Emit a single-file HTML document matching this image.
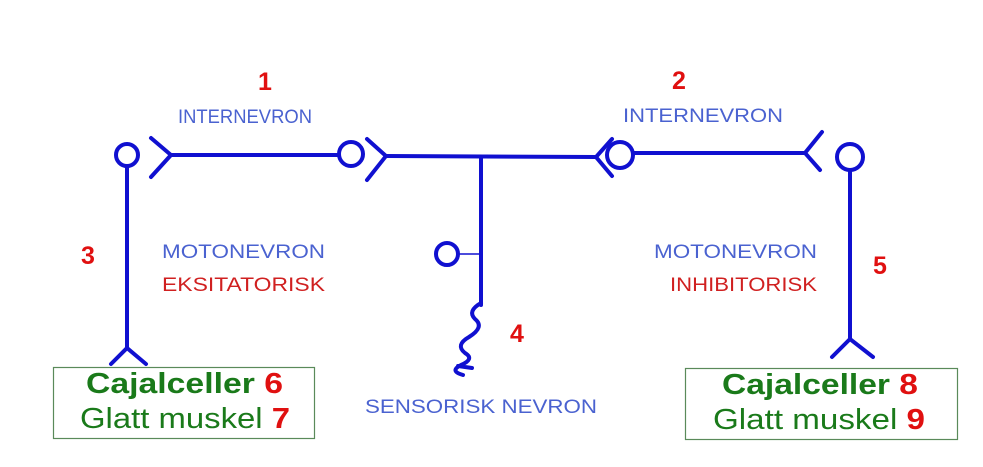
<!DOCTYPE html>
<html><head><meta charset="utf-8"><style>body{margin:0;background:#fff}svg{display:block}</style></head>
<body>
<svg width="983" height="467" viewBox="0 0 983 467" xmlns="http://www.w3.org/2000/svg" font-family="Liberation Sans, sans-serif">
<g stroke="#1010d0" stroke-width="4" fill="none" stroke-linecap="round">
<circle cx="127" cy="155" r="11"/>
<line x1="127" y1="166" x2="127" y2="348"/>
<polyline points="111,364 127,348 146,364"/>
<polyline points="151,138 171,155 151,177"/>
<line x1="171" y1="155" x2="338" y2="155"/>
<circle cx="351" cy="154" r="12"/>
<polyline points="367,139 386,156 367,180"/>
<line x1="386" y1="156" x2="596" y2="157"/>
<line x1="481" y1="158" x2="481" y2="305"/>
<circle cx="447" cy="254" r="11"/>
<line x1="458" y1="254" x2="481" y2="254" stroke-width="1.5"/>
<path d="M481,303 q-14,8 -6,16 q10,8 -6,18 q-14,8 -4,16 q10,6 -4,12 q-12,6 2,10 M458,366 l14,2"/>
<polyline points="612,139 596,157 612,176"/>
<circle cx="620" cy="155" r="13"/>
<line x1="633" y1="153" x2="805" y2="153"/>
<polyline points="822,132 805,153 820,170"/>
<circle cx="850" cy="157" r="13"/>
<line x1="850" y1="170" x2="850" y2="339"/>
<polyline points="832,357 850,339 873,357"/>
</g>
<g fill="#e01010" font-weight="bold" font-size="25">
<text x="258" y="90">1</text>
<text x="672" y="89">2</text>
<text x="81" y="264">3</text>
<text x="510" y="342">4</text>
<text x="873" y="274">5</text>
</g>
<g fill="#4a62d0" font-size="19">
<text x="178" y="123" textLength="134" lengthAdjust="spacingAndGlyphs">INTERNEVRON</text>
<text x="623" y="122" textLength="160" lengthAdjust="spacingAndGlyphs">INTERNEVRON</text>
<text x="162" y="258" textLength="163" lengthAdjust="spacingAndGlyphs">MOTONEVRON</text>
<text x="654" y="258" textLength="163" lengthAdjust="spacingAndGlyphs">MOTONEVRON</text>
<text x="365" y="413" textLength="232" lengthAdjust="spacingAndGlyphs">SENSORISK NEVRON</text>
</g>
<g fill="#d02020" font-size="19">
<text x="162" y="291" textLength="163" lengthAdjust="spacingAndGlyphs">EKSITATORISK</text>
<text x="670" y="291" textLength="147" lengthAdjust="spacingAndGlyphs">INHIBITORISK</text>
</g>
<rect x="53.5" y="367.5" width="261" height="71" fill="none" stroke="#5a8a5a" stroke-width="1.2"/>
<rect x="685.5" y="368.5" width="272" height="71" fill="none" stroke="#5a8a5a" stroke-width="1.2"/>
<g font-size="29">
<text x="86" y="393" font-weight="bold" fill="#1a7a1a" textLength="197" lengthAdjust="spacingAndGlyphs">Cajalceller <tspan fill="#e01010">6</tspan></text>
<text x="80" y="428" fill="#1a7a1a" textLength="210" lengthAdjust="spacingAndGlyphs">Glatt muskel <tspan fill="#e01010" font-weight="bold">7</tspan></text>
<text x="722" y="394" font-weight="bold" fill="#1a7a1a" textLength="196" lengthAdjust="spacingAndGlyphs">Cajalceller <tspan fill="#e01010">8</tspan></text>
<text x="713" y="429" fill="#1a7a1a" textLength="212" lengthAdjust="spacingAndGlyphs">Glatt muskel <tspan fill="#e01010" font-weight="bold">9</tspan></text>
</g>
</svg>
</body></html>
